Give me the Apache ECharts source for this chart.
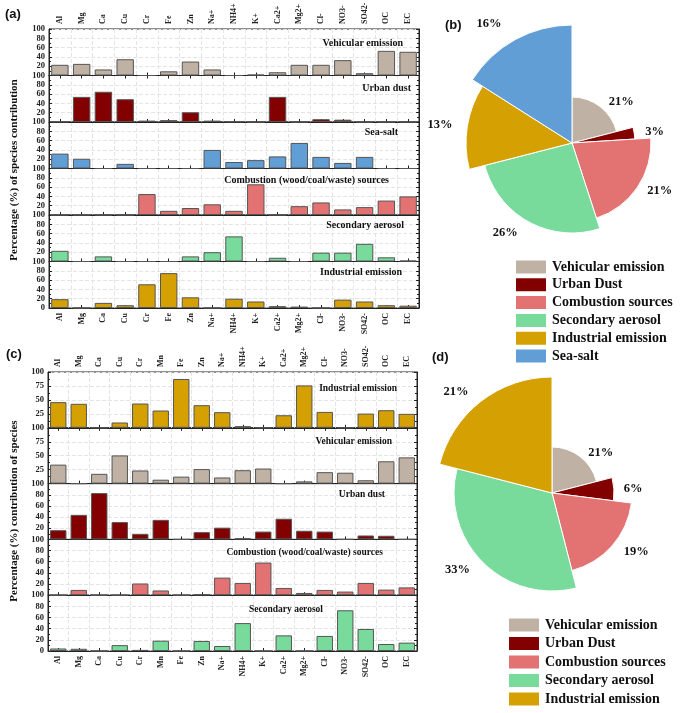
<!DOCTYPE html>
<html><head><meta charset="utf-8">
<script src="https://cdn.jsdelivr.net/npm/echarts@6/dist/echarts.min.js"></script>
<style>html,body{margin:0;padding:0;background:#fff}#c{width:684px;height:713px}</style>
</head><body><div id="c"></div><script>
// ---------- DATA ----------
const catsA = ['Al','Mg','Ca','Cu','Cr','Fe','Zn','Na+','NH4+','K+','Ca2+','Mg2+','Cl-','NO3-','SO42-','OC','EC'];
const vehicularA  = [23,25,13,35,0,9,30,13,0,2,7,23,23,33,5,53,51];
const urbanDustA  = [1,54,65,49,3,4,21,3,1,0,54,0,6,5,0,0,0];
const seaSaltA    = [32,21,0,10,0,0,0,40,14,18,26,55,25,12,25,0,0];
const combustionA = [0,0,0,0,45,9,15,23,9,66,0,19,27,12,17,31,40];
const secondaryA  = [23,0,11,0,0,0,11,20,54,0,8,0,19,19,38,9,2];
const industrialA = [19,0,11,6,51,75,23,0,20,14,4,3,0,18,14,6,5];

const catsC = ['Al','Mg','Ca','Cu','Cr','Mn','Fe','Zn','Na+','NH4+','K+','Ca2+','Mg2+','Cl-','NO3-','SO42-','OC','EC'];
const industrialC = [46,43,0,9.5,43.5,31,87.5,40.5,28,3,0,22.5,76,28.5,0,25.5,31.5,25];
const vehicularC  = [34,0,17.5,50.5,23.5,7,12.5,26,11,24,27,0,4,20.5,19.5,6,40,47];
const urbanDustC  = [16.5,44,83,31,10,35,0,13,21,2,14,37,15.5,14,0,7,6.5,0];
const combustionC = [0,9.5,0,0,21,8.5,0,1.5,31.5,22,58.5,13,4,9.5,6.5,22,10,14];
const secondaryC  = [4.5,4,0,10.5,2,18.5,0,18,9,50,0,28,0,27,73,39.5,12.5,15];

const panelTitlesA = ['Vehicular emission','Urban dust','Sea-salt','Combustion (wood/coal/waste) sources','Secondary aerosol','Industrial emission'];
const panelTitlesC = ['Industrial emission','Vehicular emission','Urban dust','Combustion (wood/coal/waste) sources','Secondary aerosol'];

const pieBNames  = ['Vehicular emission','Urban Dust','Combustion sources','Secondary aerosol','Industrial emission','Sea-salt'];
const pieBValues = [21,3,21,26,13,16];
const pieDNames  = ['Vehicular emission','Urban Dust','Combustion sources','Secondary aerosol','Industrial emission'];
const pieDValues = [21,6,19,33,21];

const yTitleA = 'Percentage (%) of species contribution';
const yTitleC = 'Percentage (%) contribution of species';

// ---------- STYLE / LAYOUT ----------
const SERIF = '"Liberation Serif","Times New Roman",serif';
const SANS = '"Liberation Sans",Arial,sans-serif';
const COLORS = {
  'Vehicular emission':'#bfb2a4',
  'Urban Dust':'#820000',
  'Combustion sources':'#e37373',
  'Secondary aerosol':'#78db9c',
  'Industrial emission':'#d4a002',
  'Sea-salt':'#629ed6'
};
const panelsA = [
  {values:vehicularA, color:COLORS['Vehicular emission']},
  {values:urbanDustA, color:COLORS['Urban Dust']},
  {values:seaSaltA, color:COLORS['Sea-salt']},
  {values:combustionA, color:COLORS['Combustion sources']},
  {values:secondaryA, color:COLORS['Secondary aerosol']},
  {values:industrialA, color:COLORS['Industrial emission']}
];
const panelsC = [
  {values:industrialC, color:COLORS['Industrial emission']},
  {values:vehicularC, color:COLORS['Vehicular emission']},
  {values:urbanDustC, color:COLORS['Urban Dust']},
  {values:combustionC, color:COLORS['Combustion sources']},
  {values:secondaryC, color:COLORS['Secondary aerosol']}
];
const layoutA = {left:49, top:29, width:370, h:46.5, intervals:[20,20,20,20,20,20], titleFont:10,
  titlePos:[[403,43],[411,88],[398,132],[389,180],[404,225],[402,272]]};
const layoutC = {left:48, top:372, width:369, h:55.8, intervals:[25,25,20,20,20], titleFont:9.5,
  titlePos:[[397,389],[392,442],[385,495],[383,553],[323,610]]};

const grids=[], xAxes=[], yAxes=[], series=[], graphics=[];
const axisCol = '#222';
const gridLine = {show:true, lineStyle:{color:'#e4e4e4', type:'dashed', width:1}};

function catLabel(show){
  return {show, interval:0, rotate:90, margin:5, fontFamily:SERIF, fontWeight:'bold', fontSize:8, color:'#222'};
}
function addGroup(cats, panels, titles, L){
  panels.forEach((p,i)=>{
    const gi = grids.length;
    const top = L.top + i*L.h;
    const last = i===panels.length-1;
    grids.push({left:L.left, top, width:L.width, height:L.h, show:true, borderColor:axisCol, borderWidth:1,
      backgroundColor:'transparent', outerBoundsMode:'none', containLabel:false});
    xAxes.push({type:'category', gridIndex:gi, data:cats, position:'bottom',
      axisLine:{show:true, lineStyle:{color:axisCol}},
      axisTick:{show:true, inside:true, alignWithLabel:true, interval:0, length:3, lineStyle:{color:axisCol}},
      axisLabel:catLabel(last), splitLine:gridLine});
    series.push({type:'bar', xAxisIndex:xAxes.length-1, yAxisIndex:yAxes.length, data:p.values,
      barWidth:'80%', silent:true, animation:false,
      itemStyle:{color:p.color, borderColor:'#555', borderWidth:1}});
    yAxes.push({type:'value', gridIndex:gi, min:0, max:100, interval:L.intervals[i], position:'left',
      axisLine:{show:true, lineStyle:{color:axisCol}},
      axisTick:{show:true, inside:true, length:3, lineStyle:{color:axisCol}},
      minorTick:{show:true, splitNumber:2, length:2, lineStyle:{color:axisCol}},
      axisLabel:{showMinLabel:last, showMaxLabel:true, margin:4, fontFamily:SERIF, fontWeight:'bold', fontSize:8.5, color:'#222'},
      splitLine:gridLine});
    yAxes.push({type:'value', gridIndex:gi, min:0, max:100, interval:L.intervals[i], position:'right',
      axisLine:{show:true, lineStyle:{color:axisCol}},
      axisTick:{show:true, inside:true, length:3, lineStyle:{color:axisCol}},
      minorTick:{show:true, splitNumber:2, length:2, lineStyle:{color:axisCol}},
      axisLabel:{show:false}, splitLine:{show:false}});
    if(i===0){
      xAxes.push({type:'category', gridIndex:gi, data:cats, position:'top',
        axisLine:{show:true, lineStyle:{color:axisCol}},
        axisTick:{show:true, inside:true, alignWithLabel:true, interval:0, length:3, lineStyle:{color:axisCol}},
        axisLabel:catLabel(true), splitLine:{show:false}});
    }
    graphics.push({type:'text', x:L.titlePos[i][0], y:L.titlePos[i][1], silent:true, z:100,
      style:{text:titles[i], align:'right', verticalAlign:'middle', textAlign:'right', textVerticalAlign:'middle',
        font:'bold '+L.titleFont+'px '+SERIF, fill:'#111'}});
  });
}
addGroup(catsA, panelsA, panelTitlesA, layoutA);
addGroup(catsC, panelsC, panelTitlesC, layoutC);

function yTitle(text, y){
  return {type:'text', x:14, y, rotation:Math.PI/2, silent:true,
    style:{text, align:'center', verticalAlign:'middle', textAlign:'center', textVerticalAlign:'middle',
      font:'bold 11px '+SERIF, fill:'#111'}};
}
graphics.push(yTitle(yTitleA, 170));
graphics.push(yTitle(yTitleC, 511));
function letter(t, x, y){
  return {type:'text', x, y, silent:true, style:{text:t, align:'left', verticalAlign:'middle', textAlign:'left', textVerticalAlign:'middle', font:'bold 13px '+SANS, fill:'#111'}};
}
graphics.push(letter('(a)',5,14), letter('(b)',445,25), letter('(c)',6,354), letter('(d)',432,357));

// ---------- PIES ----------
function pieSeries(names, values, radii, center, labelLens){
  const total = values.reduce((a,b)=>a+b,0);
  let cum = 0;
  return names.map((n,i)=>{
    const start = 90 - 360*cum/total;
    cum += values[i];
    return {type:'pie', center, radius:[0, radii[i]], startAngle:start, clockwise:true,
      silent:true, animation:false, avoidLabelOverlap:false, emphasis:{disabled:true},
      label:{show:true, position:'outside', formatter:'{c}%', fontFamily:SERIF, fontWeight:'bold', fontSize:12.5, color:'#111'},
      labelLine:{show:false, length:labelLens[i], length2:0},
      data:[
        {name:n, value:values[i], itemStyle:{color:COLORS[n], borderColor:'#fff', borderWidth:1}},
        {name:'rest_'+i, value:total-values[i], itemStyle:{color:'rgba(0,0,0,0)', borderWidth:0}, label:{show:false}}
      ]};
  });
}
const pieBRadii = [46,63,79,90,106,118];
const pieDRadii = [46,62,80,98,116];
const pieBLabelLen = [6,6,6,12,10,18];
const pieDLabelLen = [5,5,9,11,12];
series.push(...pieSeries(pieBNames, pieBValues, pieBRadii, [572,143], pieBLabelLen));
series.push(...pieSeries(pieDNames, pieDValues, pieDRadii, [552,493], pieDLabelLen));

const legendText = {fontFamily:SERIF, fontWeight:'bold', fontSize:14, color:'#111'};
const legends = [
  {data:pieBNames, orient:'vertical', left:514, top:258.5, height:125, itemWidth:32, itemHeight:15, itemGap:0.8, icon:'rect',
   selectedMode:false, textStyle:legendText, padding:0},
  {data:pieDNames, orient:'vertical', left:507, top:616.5, height:100, itemWidth:32, itemHeight:15, itemGap:1.5, icon:'rect',
   selectedMode:false, textStyle:legendText, padding:0}
];

const chart = echarts.init(document.getElementById('c'), null, {renderer:'canvas'});
chart.setOption({
  backgroundColor:'#fff', animation:false,
  grid:grids, xAxis:xAxes, yAxis:yAxes, series, legend:legends, graphic:graphics
});
</script></body></html>
